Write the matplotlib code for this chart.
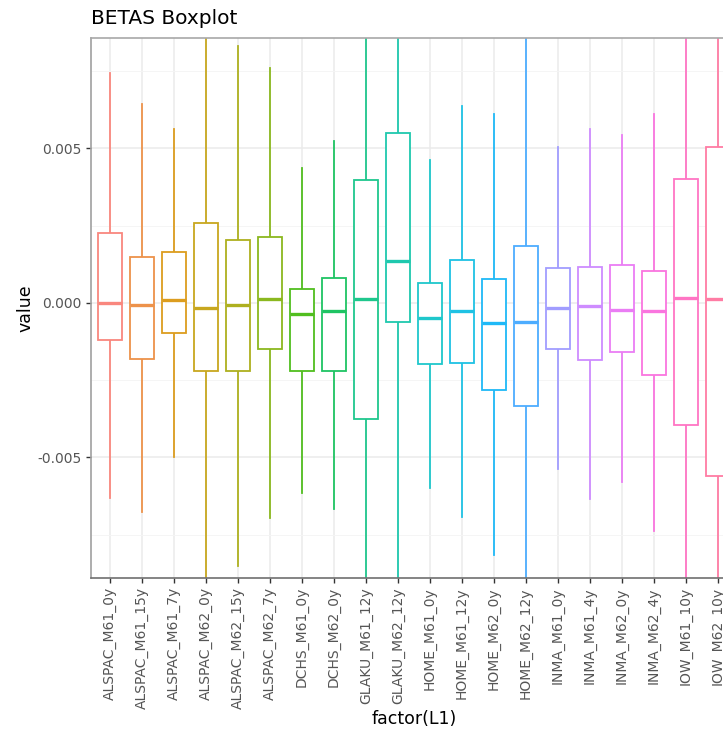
import numpy as np
import matplotlib.pyplot as plt
from matplotlib.ticker import MultipleLocator

# beta summaries per cohort / model / age (units: 1e-3)
labels = ["ALSPAC_M61_0y", "ALSPAC_M61_15y", "ALSPAC_M61_7y", "ALSPAC_M62_0y",
          "ALSPAC_M62_15y", "ALSPAC_M62_7y", "DCHS_M61_0y", "DCHS_M62_0y",
          "GLAKU_M61_12y", "GLAKU_M62_12y", "HOME_M61_0y", "HOME_M61_12y",
          "HOME_M62_0y", "HOME_M62_12y", "INMA_M61_0y", "INMA_M61_4y",
          "INMA_M62_0y", "INMA_M62_4y", "IOW_M61_10y", "IOW_M62_10y"]
whi_hi = [7.44, 6.44, 5.63, 10.0, 8.32, 7.61, 4.38, 5.25, 10.0, 10.0,
          4.63, 6.37, 6.12, 10.0, 5.04, 5.63, 5.44, 6.11, 10.0, 10.0]
q3 = [2.27, 1.50, 1.64, 2.58, 2.04, 2.15, 0.44, 0.80, 3.98, 5.51,
      0.64, 1.39, 0.77, 1.84, 1.13, 1.16, 1.24, 1.05, 4.01, 5.04]
med = [-0.01, -0.05, 0.10, -0.17, -0.07, 0.12, -0.37, -0.27, 0.13, 1.37,
       -0.48, -0.27, -0.66, -0.61, -0.17, -0.10, -0.24, -0.27, 0.16, 0.13]
q1 = [-1.20, -1.81, -0.98, -2.20, -2.20, -1.50, -2.20, -2.20, -3.76, -0.62,
      -1.98, -1.93, -2.82, -3.32, -1.49, -1.84, -1.58, -2.32, -3.95, -5.60]
whi_lo = [-6.31, -6.76, -4.99, -10.0, -8.50, -6.97, -6.14, -6.67, -10.0, -10.0,
          -5.98, -6.94, -8.15, -10.0, -5.37, -6.35, -5.78, -7.38, -10.0, -10.0]


def hcl(h, c=100, l=65):
    # polar Luv -> sRGB, same as grDevices::hcl
    xn, yn, zn = 95.047, 100.0, 108.883
    un = 4 * xn / (xn + 15 * yn + 3 * zn)
    vn = 9 * yn / (xn + 15 * yn + 3 * zn)
    y = yn * ((l + 16) / 116) ** 3
    u = c * np.cos(np.radians(h)) / (13 * l) + un
    v = c * np.sin(np.radians(h)) / (13 * l) + vn
    x = y * 9 * u / (4 * v)
    z = y * (12 - 3 * u - 20 * v) / (4 * v)
    xyz = np.array([x, y, z]) / 100
    m = np.array([[3.2404542, -1.5371385, -0.4985314],
                  [-0.9692660, 1.8760108, 0.0415560],
                  [0.0556434, -0.2040259, 1.0572252]])
    rgb = m @ xyz
    rgb = np.where(rgb <= 0.0031308, 12.92 * rgb, 1.055 * np.abs(rgb) ** (1 / 2.4) - 0.055)
    return np.clip(rgb, 0, 1)


n = len(labels)
hues = np.linspace(15, 375, n + 1)[:n]
# slightly washed out, like the antialiased thin strokes
colors = [tuple(0.88 * hcl(h) + 0.12) for h in hues]

stats = []
for i in range(n):
    stats.append(dict(med=med[i] / 1000, q1=q1[i] / 1000, q3=q3[i] / 1000,
                      whislo=whi_lo[i] / 1000, whishi=whi_hi[i] / 1000, fliers=[]))

W, H = 723, 731
fig = plt.figure(figsize=(W / 100, H / 100), dpi=100)
ax = fig.add_axes([91 / W, (H - 578) / H, (737 - 91) / W, (578 - 38) / H])

pos = np.arange(1, n + 1)
bp = ax.bxp(stats, positions=pos, widths=0.75, showcaps=False, showfliers=False,
            patch_artist=True)
for i in range(n):
    c = colors[i]
    bp['boxes'][i].set(facecolor='white', edgecolor=c, linewidth=1.3, zorder=3)
    bp['medians'][i].set(color=c, linewidth=2.4, solid_capstyle='butt', zorder=4)
    for w in bp['whiskers'][2 * i:2 * i + 2]:
        w.set(color=c, linewidth=1.3, zorder=2)

ax.set_xlim(0.4, n + 0.6)
ax.set_ylim(-0.0089, 0.008576)
ax.set_xticks(pos)
ax.set_xticklabels(labels, rotation=90, fontsize=10, color='#555555')
ax.yaxis.set_major_locator(MultipleLocator(0.005))
ax.yaxis.set_minor_locator(MultipleLocator(0.0025))
ax.set_yticks([-0.005, 0.0, 0.005])
ax.set_yticklabels(['-0.005', '0.000', '0.005'], fontsize=10, color='#555555')

ax.grid(True, which='major', color='#EBEBEB', linewidth=1.1, zorder=0)
ax.grid(True, which='minor', axis='y', color='#F4F4F4', linewidth=0.6, zorder=0)
ax.set_axisbelow(True)
ax.tick_params(axis='both', which='major', length=3.5, width=1, color='#333333', pad=3)
ax.tick_params(axis='y', which='minor', length=0)

ax.spines['top'].set_color('#A8A8A8')
ax.spines['left'].set_color('#A0A0A0')
ax.spines['bottom'].set_color('#707070')
ax.spines['right'].set_visible(False)
for s in ax.spines.values():
    s.set_linewidth(1.2)

ax.set_xlabel('factor(L1)', fontsize=12.5, color='black', labelpad=0.5)
ax.set_ylabel('value', fontsize=12.5, color='black', labelpad=2.5)
fig.text(91 / W, 1 - 18 / H, 'BETAS Boxplot', fontsize=14.5, va='center', ha='left')

fig.savefig('out.png', dpi=100)
